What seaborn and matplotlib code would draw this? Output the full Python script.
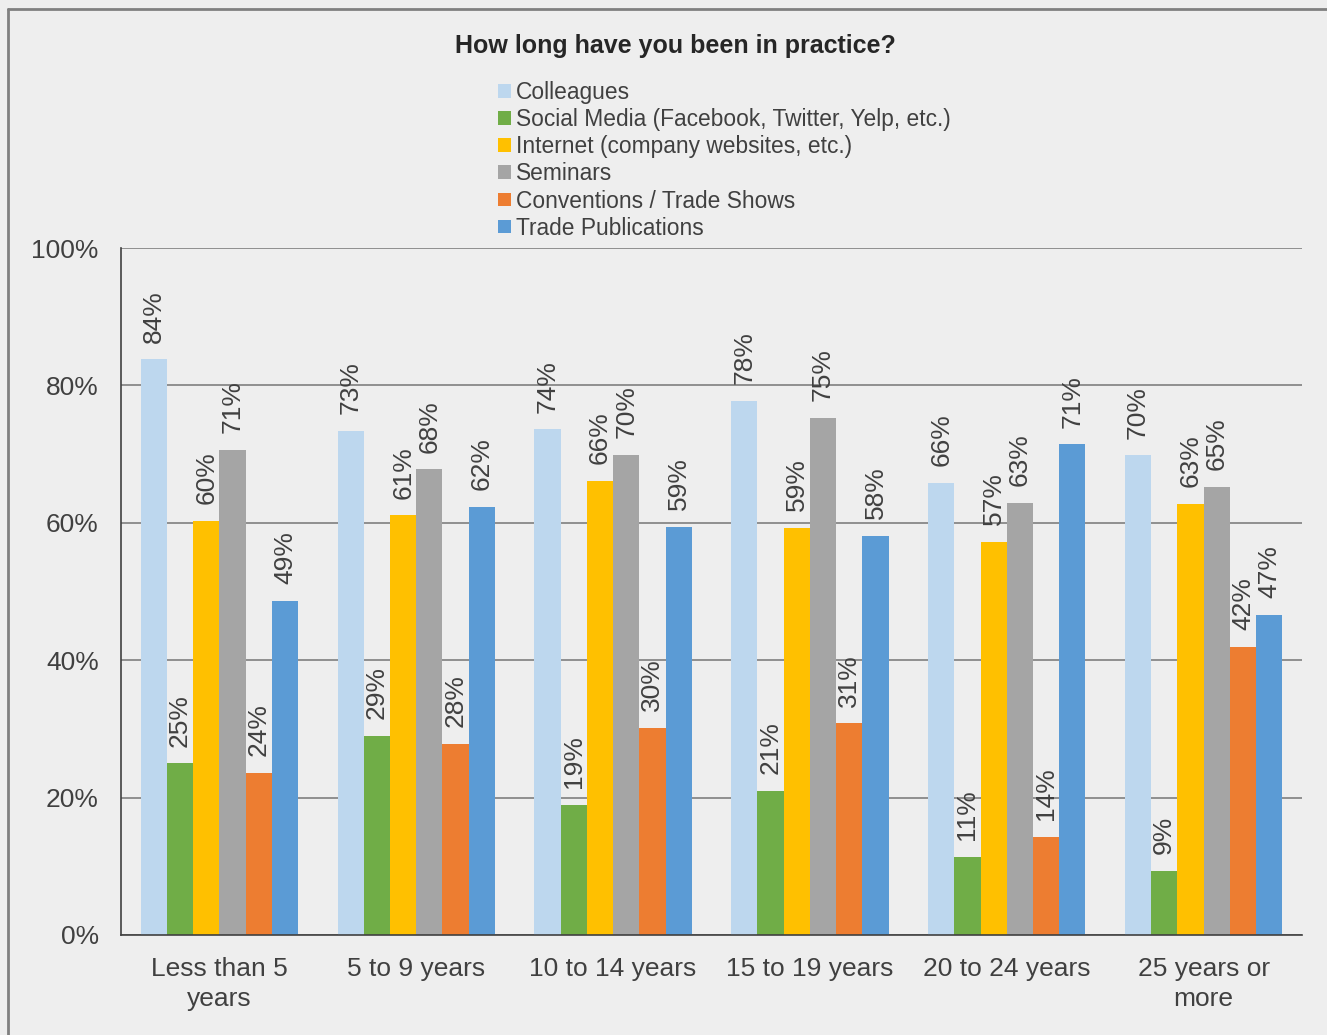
import pandas as pd
import matplotlib.pyplot as plt
import seaborn as sns
from matplotlib.patches import Patch
from matplotlib.lines import Line2D

# data
groups = ["Less than 5\nyears", "5 to 9 years", "10 to 14 years",
          "15 to 19 years", "20 to 24 years", "25 years or\nmore"]
sources = ["Colleagues", "Social Media (Facebook, Twitter, Yelp, etc.)",
           "Internet (company websites, etc.)", "Seminars",
           "Conventions / Trade Shows", "Trade Publications"]
colleagues = [83.8, 73.4, 73.6, 77.8, 65.8, 69.8]
social_media = [25.0, 29.0, 18.9, 21.0, 11.4, 9.3]
internet = [60.3, 61.1, 66.1, 59.3, 57.2, 62.8]
seminars = [70.6, 67.8, 69.9, 75.3, 62.9, 65.2]
conventions = [23.6, 27.8, 30.2, 30.8, 14.3, 41.9]
trade_pubs = [48.6, 62.3, 59.4, 58.1, 71.4, 46.6]
colors = ["#BDD7EE", "#70AD47", "#FFC000", "#A5A5A5", "#ED7D31", "#5B9BD5"]

series = [colleagues, social_media, internet, seminars, conventions, trade_pubs]
rows = []
for src, vals in zip(sources, series):
    for g, v in zip(groups, vals):
        rows.append({"group": g, "source": src, "value": v})
df = pd.DataFrame(rows)

sns.set_style("white")
plt.rcParams["font.family"] = ["Liberation Sans", "DejaVu Sans"]
bg = "#EEEEEE"
txt = "#404040"

fig = plt.figure(figsize=(13.27, 10.35), dpi=100, facecolor=bg)
ax = fig.add_axes([121/1327, 1-935/1035, (1302-121)/1327, (935-248)/1035])
ax.set_facecolor(bg)

sns.barplot(data=df, x="group", y="value", hue="source", hue_order=sources,
            order=groups, palette=colors, width=0.8, linewidth=0,
            saturation=1, legend=False, ax=ax)

for cont in ax.containers:
    labs = [f"{b.get_height():.0f}%" for b in cont]
    ax.bar_label(cont, labels=labs, rotation=90, padding=12,
                 fontsize=19, color=txt)

ax.set_xlim(-0.5, 5.5)
ax.set_ylim(0, 100)
ax.set_yticks(range(0, 101, 20))
ax.set_yticklabels([f"{v}%" for v in range(0, 101, 20)])
ax.yaxis.grid(True, color="#7F7F7F", linewidth=1.2)
ax.set_axisbelow(True)
ax.set_xlabel("")
ax.set_ylabel("")
for s in ["top", "right"]:
    ax.spines[s].set_visible(False)
for s in ["left", "bottom"]:
    ax.spines[s].set_color("#404040")
    ax.spines[s].set_linewidth(1.2)

ax.tick_params(axis="y", length=6, width=1, color="#7F7F7F", pad=10,
               labelsize=19, labelcolor=txt)
ax.tick_params(axis="x", which="major", length=0, pad=16,
               labelsize=19, labelcolor=txt)
for lab in ax.get_xticklabels():
    lab.set_linespacing(1.3)
ax.set_xticks([-0.5, 1.5, 3.5, 5.5], minor=True)
ax.tick_params(axis="x", which="minor", length=6, width=1, color="#7F7F7F")

fig.text(675/1327, 1-46/1035, "How long have you been in practice?",
         ha="center", va="center", fontsize=18, fontweight="bold", color="#262626")

handles = [Patch(facecolor=c, edgecolor="none") for c in colors]
fig.legend(handles, sources, loc="upper left",
           bbox_to_anchor=(489/1327, 1-72/1035), frameon=False,
           fontsize=16.4, labelcolor=txt, handlelength=0.55, handleheight=0.55,
           handletextpad=0.25, labelspacing=0.18, borderaxespad=0)

# outer chart border (left and top edges visible)
fig.add_artist(Line2D([8/1327, 8/1327], [0, 1-9/1035], color="#808080",
                      linewidth=2, transform=fig.transFigure))
fig.add_artist(Line2D([8/1327, 1], [1-9/1035, 1-9/1035], color="#808080",
                      linewidth=2, transform=fig.transFigure))

fig.savefig("out.png", dpi=100, facecolor=bg)
